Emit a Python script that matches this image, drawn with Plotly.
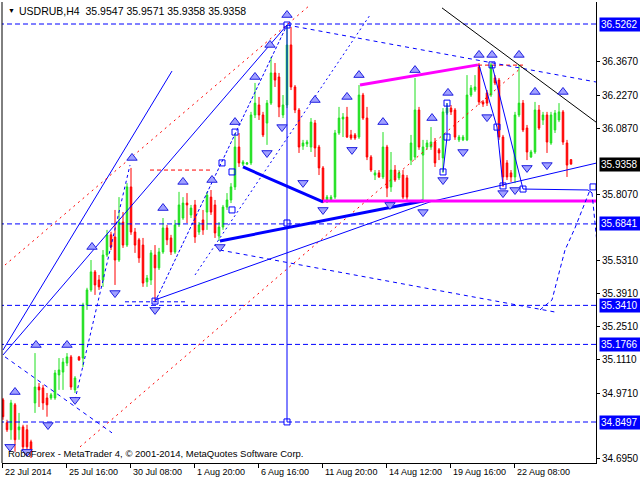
import plotly.graph_objects as go

# ---------------- data ----------------
bars = list(range(143))

opens = [34.943,34.847,34.817,34.922,34.817,34.829,34.817,34.766,34.930,34.997,
         34.993,34.951,34.951,34.951,35.048,35.060,35.098,35.124,34.985,35.124,
         35.119,35.343,35.406,35.482,35.448,35.448,35.553,35.638,35.629,35.532,
         35.692,35.595,35.840,35.650,35.617,35.595,35.440,35.448,35.553,35.499,
         35.566,35.667,35.625,35.566,35.680,35.709,35.772,35.722,35.764,35.650,
         35.701,35.734,35.797,35.764,35.633,35.671,35.755,35.785,35.840,36.008,
         35.936,35.936,35.941,36.143,36.185,36.143,36.109,36.193,36.320,36.303,
         36.143,36.185,36.438,36.261,36.164,36.012,36.021,36.008,36.109,36.008,
         35.920,35.777,35.785,35.797,36.067,36.126,36.134,36.059,36.059,36.050,
         36.227,36.130,35.966,35.890,35.899,35.882,36.008,35.840,35.911,35.878,
         35.890,35.878,35.953,35.966,36.164,35.974,36.008,36.008,36.029,35.996,
         35.962,36.151,36.172,36.164,36.038,36.038,36.038,36.227,36.248,36.345,
         36.198,36.236,36.227,36.299,36.290,36.050,35.941,35.899,35.882,36.143,
         36.193,36.088,35.966,35.987,36.164,36.122,36.143,36.025,36.080,36.122,
         36.156,36.025,35.9547]

highs = [34.951,34.859,34.943,34.930,34.888,34.838,34.838,34.775,35.140,35.014,
         35.006,34.972,34.972,35.069,35.119,35.119,35.140,35.132,35.043,35.128,
         35.352,35.415,35.532,35.490,35.469,35.574,35.659,35.651,35.743,35.797,
         35.734,35.856,35.920,35.667,35.625,35.625,35.469,35.574,35.595,35.583,
         35.709,35.680,35.638,35.701,35.819,35.797,35.814,35.764,35.785,35.692,
         35.743,35.819,35.827,35.785,35.692,35.764,35.814,35.856,36.067,36.067,
         35.953,35.945,36.156,36.278,36.219,36.156,36.206,36.387,36.362,36.320,
         36.227,36.522,36.514,36.269,36.172,36.038,36.038,36.130,36.122,36.017,
         35.928,35.806,35.806,36.080,36.177,36.151,36.177,36.080,36.067,36.269,
         36.236,36.177,35.974,35.911,35.911,36.071,36.017,35.987,35.932,35.911,
         35.911,35.890,36.059,36.299,36.177,36.038,36.038,36.092,36.046,36.004,
         36.172,36.193,36.185,36.172,36.059,36.059,36.311,36.269,36.311,36.362,
         36.206,36.248,36.362,36.311,36.299,36.059,35.953,35.911,36.156,36.354,
         36.206,36.101,35.996,36.198,36.185,36.156,36.156,36.156,36.164,36.193,
         36.164,36.038,35.9571]

lows = [34.859,34.808,34.775,34.724,34.775,34.732,34.711,34.698,34.888,34.913,
        34.901,34.872,34.943,34.943,34.985,34.985,35.085,34.985,34.972,35.107,
        35.082,35.322,35.398,35.385,35.406,35.419,35.545,35.574,35.427,35.524,
        35.583,35.587,35.638,35.562,35.520,35.419,35.419,35.427,35.355,35.490,
        35.558,35.595,35.553,35.558,35.671,35.701,35.688,35.709,35.604,35.638,
        35.638,35.659,35.722,35.625,35.612,35.659,35.743,35.772,35.827,35.924,
        35.928,35.932,35.932,36.130,36.122,36.050,36.017,36.185,36.261,36.134,
        36.130,36.172,36.248,36.151,35.983,35.996,36.008,35.987,35.966,35.890,
        35.772,35.772,35.781,35.789,36.059,36.050,36.046,36.038,36.038,36.042,
        36.122,35.953,35.903,35.869,35.878,35.873,35.797,35.819,35.861,35.869,
        35.789,35.785,35.932,35.953,35.996,35.772,35.996,35.996,35.924,35.953,
        35.899,36.143,36.143,36.038,36.029,36.033,36.033,36.219,36.240,36.185,
        36.177,36.181,36.219,36.269,36.038,35.840,35.869,35.861,35.856,36.134,
        36.071,35.953,35.962,35.979,36.080,36.101,35.983,36.017,36.067,36.113,
        36.017,35.882,35.9358]

closes = [34.872,34.817,34.930,34.775,34.829,34.745,34.745,34.724,34.997,34.985,
          34.930,34.922,34.964,35.056,35.069,35.102,35.124,34.997,35.035,35.111,
          35.343,35.406,35.482,35.427,35.419,35.553,35.638,35.587,35.532,35.692,
          35.595,35.840,35.650,35.595,35.541,35.435,35.456,35.562,35.499,35.566,
          35.667,35.617,35.566,35.680,35.764,35.772,35.764,35.751,35.629,35.680,
          35.659,35.806,35.734,35.646,35.671,35.755,35.785,35.840,36.008,35.941,
          35.945,35.941,36.143,36.193,36.143,36.059,36.193,36.320,36.290,36.177,
          36.185,36.438,36.261,36.164,36.008,36.025,36.029,36.113,36.004,35.920,
          35.777,35.797,35.797,36.067,36.130,36.134,36.050,36.046,36.046,36.227,
          36.130,35.966,35.911,35.899,35.882,36.008,35.835,35.911,35.869,35.899,
          35.797,35.797,36.025,36.164,36.008,36.008,36.025,36.029,35.941,35.983,
          36.156,36.172,36.156,36.050,36.050,36.050,36.227,36.257,36.261,36.198,
          36.189,36.193,36.354,36.278,36.050,35.882,35.882,35.882,36.143,36.193,
          36.080,35.987,35.987,36.164,36.088,36.143,36.029,36.143,36.151,36.156,
          36.029,35.932,35.9358]

x_tick_bars = [0, 16, 32, 48, 64, 80, 96, 112, 128]
x_tick_labels = ["22 Jul 2014", "25 Jul 16:00", "30 Jul 08:00", "1 Aug 20:00",
                 "6 Aug 16:00", "11 Aug 20:00", "14 Aug 12:00", "19 Aug 16:00",
                 "22 Aug 08:00"]

y_tick_values = [36.3670, 36.2270, 36.0870, 35.8070, 35.5310, 35.3910,
                 35.2510, 35.1110, 34.9710, 34.6950]

level_prices = [36.5262, 35.6841, 35.3410, 35.1766, 34.8497]
last_price = 35.9358
title_text = "USDRUB,H4  35.9547 35.9571 35.9358 35.9358"
footer_text = "RoboForex - MetaTrader 4, \u00a9 2001-2014, MetaQuotes Software Corp."

# drawn objects: (bar positions, prices)
chan_outer = ([0, 42.25], [35.153, 36.328])
chan_inner = ([0, 71], [35.132, 36.522])
red_upper = ([0.5, 76.75], [35.511, 36.606])
red_lower = ([19.25, 129.75], [34.745, 36.345])
red_flat_a = ([36.75, 51.75], [35.911, 35.911])
red_flat_b = ([118.75, 130], [36.353, 36.353])
vert_line = ([71, 71], [36.522, 34.850])
support_a = ([38, 106.75], [35.364, 35.777])
support_b = ([106.75, 148.5], [35.777, 35.941])
thick_a = ([60, 80], [35.924, 35.777])
thick_b = ([54.25, 105], [35.612, 35.781])
mag_top = ([89.25, 118.75], [36.269, 36.354])
mag_bot = ([80, 148.25], [35.781, 35.781])
dash_top = ([71, 148.25], [36.522, 36.282])
dash_mid = ([54.25, 138], [35.574, 35.313])
steep_a = ([38, 71], [35.355, 36.522])
dot_b = ([48, 91.75], [35.469, 36.564])
dash_left = ([0.5, 27.25], [35.124, 34.804])
dash_fan = ([18, 31.75], [34.943, 35.932])
dash_low = ([30.5, 46.25], [35.356, 35.356])
zig_a = ([111, 111, 110], [36.193, 36.050, 35.903])
zig_b = ([119, 123.5, 125], [36.354, 36.092, 35.844])
zig_c = ([122.25, 130, 146.25, 147.25], [36.354, 35.831, 35.827, 35.815])
fc_drop = ([147.25, 148.5], [35.815, 35.604])
fc_rise = ([134.25, 137.25, 140.5, 143, 146.75], [35.322, 35.364, 35.574, 35.667, 35.827])
black_diag = ([109.75, 148.25], [36.594, 36.113])

square_bars = [71, 71, 71, 58, 54.75, 57.25, 57.25, 38, 111, 111, 110, 122.25, 123.5, 125, 130, 147.5]
square_prices = [36.522, 35.688, 34.850, 36.071, 35.941, 35.743, 35.903, 35.359, 36.193, 36.050,
                 35.903, 36.354, 36.092, 35.844, 35.831, 35.840]

up_bars = [3, 8.25, 16, 22.25, 32.25, 40, 45, 52.25, 58, 63, 66.75, 71, 78, 86, 89, 95,
           103, 107.25, 111.25, 119, 122.25, 129, 133, 140]
up_prices = [34.976, 35.174, 35.174, 35.587, 35.962, 35.751, 35.861, 35.869, 36.113, 36.303,
             36.438, 36.564, 36.206, 36.219, 36.311, 36.113, 36.332, 36.130, 36.236, 36.396,
             36.396, 36.396, 36.240, 36.240]
down_bars = [1.75, 6, 11.25, 18, 28, 38, 54.25, 66, 69.75, 75, 80, 87.25, 96.75, 105, 110,
             115, 121, 125, 128, 131, 136]
down_prices = [34.745, 34.724, 34.837, 34.943, 35.393, 35.322, 35.587, 35.983, 36.092, 35.857,
               35.743, 35.996, 35.764, 35.734, 35.869, 35.987, 36.134, 35.814, 35.827, 35.920,
               35.932]

# ---------------- figure ----------------
GREEN = "#1ee01e"
RED = "#ff0000"
BLUE = "#0000ff"
FONT = "Liberation Sans"

fig = go.Figure()

# horizontal dashed levels
for lv in level_prices:
    fig.add_trace(go.Scatter(x=[-1, 150], y=[lv, lv], mode="lines",
                             line=dict(color=BLUE, width=1, dash="5px,3px"),
                             hoverinfo="skip"))

fig.add_trace(go.Candlestick(
    x=bars, open=opens, high=highs, low=lows, close=closes,
    increasing=dict(line=dict(color=GREEN, width=1), fillcolor=GREEN),
    decreasing=dict(line=dict(color=RED, width=1), fillcolor=RED),
    whiskerwidth=0, hoverinfo="skip"))


def add_line(obj, color, width=1, dash="solid"):
    fig.add_trace(go.Scatter(x=obj[0], y=obj[1], mode="lines",
                             line=dict(color=color, width=width, dash=dash),
                             hoverinfo="skip"))


add_line(chan_outer, BLUE)
add_line(chan_inner, BLUE)
add_line(red_upper, RED, 1, "2px,4px")
add_line(red_lower, RED, 1, "2px,4px")
add_line(red_flat_a, RED, 1, "4px,3px")
add_line(red_flat_b, RED, 1, "4px,3px")
add_line(vert_line, BLUE)
add_line(support_a, BLUE)
add_line(support_b, BLUE)
add_line(thick_a, BLUE, 3)
add_line(thick_b, BLUE, 3)
add_line(mag_top, "#ff00ff", 3)
add_line(mag_bot, "#ff00ff", 3)
add_line(dash_top, BLUE, 1, "4px,4px")
add_line(dash_mid, BLUE, 1, "4px,4px")
add_line(steep_a, BLUE, 1, "3px,2px")
add_line(dot_b, BLUE, 1, "2px,3px")
add_line(dash_left, BLUE, 1, "4px,4px")
add_line(dash_fan, BLUE, 1, "3px,3px")
add_line(dash_low, BLUE, 1, "4px,3px")
add_line(zig_a, BLUE)
add_line(zig_b, BLUE)
add_line(zig_c, BLUE)
add_line(fc_drop, BLUE, 1, "4px,3px")
add_line(fc_rise, BLUE, 1, "4px,3px")
add_line(black_diag, "#000000")

fig.add_trace(go.Scatter(x=square_bars, y=square_prices, mode="markers",
                         marker=dict(symbol="square-open", size=6, color=BLUE,
                                     line=dict(width=1, color=BLUE)),
                         hoverinfo="skip"))
fig.add_trace(go.Scatter(x=up_bars, y=up_prices, mode="markers",
                         marker=dict(symbol="triangle-up", size=9, color="#a0a0ff",
                                     line=dict(width=1, color="#2020e0")),
                         hoverinfo="skip"))
fig.add_trace(go.Scatter(x=down_bars, y=down_prices, mode="markers",
                         marker=dict(symbol="triangle-down", size=9, color="#a0a0ff",
                                     line=dict(width=1, color="#2020e0")),
                         hoverinfo="skip"))

tick_positions = [b - 0.2 for b in x_tick_bars]

annotations = []
# time labels (left aligned after tick)
for pos, t in zip(tick_positions, x_tick_labels):
    annotations.append(dict(x=pos, xref="x", y=0, yref="paper", text=t,
                            xanchor="left", yanchor="top", xshift=1, yshift=-2,
                            showarrow=False, font=dict(family=FONT, size=9, color="black")))
# price highlight boxes
for lv in level_prices:
    annotations.append(dict(x=1, xref="paper", y=lv, yref="y", text=f"{lv:.4f}",
                            xanchor="left", yanchor="middle", xshift=3, showarrow=False,
                            bgcolor=BLUE, borderpad=1, width=38, align="left",
                            font=dict(family=FONT, size=10, color="white")))
annotations.append(dict(x=1, xref="paper", y=last_price, yref="y", text=f"{last_price:.4f}",
                        xanchor="left", yanchor="middle", xshift=3, showarrow=False,
                        bgcolor="black", borderpad=1, width=38, align="left",
                        font=dict(family=FONT, size=10, color="white")))
# title and footer
annotations.append(dict(x=0, xref="paper", y=1, yref="paper", text="\u25bc",
                        xanchor="left", yanchor="top", xshift=4, yshift=-3, showarrow=False,
                        font=dict(family=FONT, size=7, color="black")))
annotations.append(dict(x=0, xref="paper", y=1, yref="paper", text=title_text,
                        xanchor="left", yanchor="top", xshift=15, yshift=-1, showarrow=False,
                        font=dict(family=FONT, size=10.5, color="black")))
annotations.append(dict(x=0, xref="paper", y=0, yref="paper", text=footer_text,
                        xanchor="left", yanchor="bottom", xshift=4, yshift=2, showarrow=False,
                        font=dict(family=FONT, size=9.5, color="black")))

fig.update_layout(
    width=640, height=480,
    margin=dict(l=2, r=44, t=2, b=17),
    paper_bgcolor="white", plot_bgcolor="white",
    showlegend=False, boxgap=0.45,
    annotations=annotations,
    shapes=[dict(type="line", xref="paper", yref="paper", x0=0, x1=0, y0=0, y1=1,
                 line=dict(color="black", width=1))],
    xaxis=dict(range=[-0.25, 148.25], showgrid=False, zeroline=False,
               showline=True, linecolor="black", linewidth=1,
               tickvals=tick_positions, ticks="outside", ticklen=4,
               tickcolor="black", showticklabels=False,
               rangeslider=dict(visible=False), fixedrange=True),
    yaxis=dict(side="right", range=[34.677, 36.6189], showgrid=False, zeroline=False,
               showline=True, linecolor="black", linewidth=1,
               tickvals=y_tick_values, ticktext=[f"{v:.4f}" for v in y_tick_values],
               ticks="outside", ticklen=3, tickcolor="black",
               tickfont=dict(family=FONT, size=10, color="black"), fixedrange=True),
)

fig.write_html("out.html", config={"displayModeBar": False},
               post_script="document.body.style.margin='0';document.body.style.overflow='hidden';")
